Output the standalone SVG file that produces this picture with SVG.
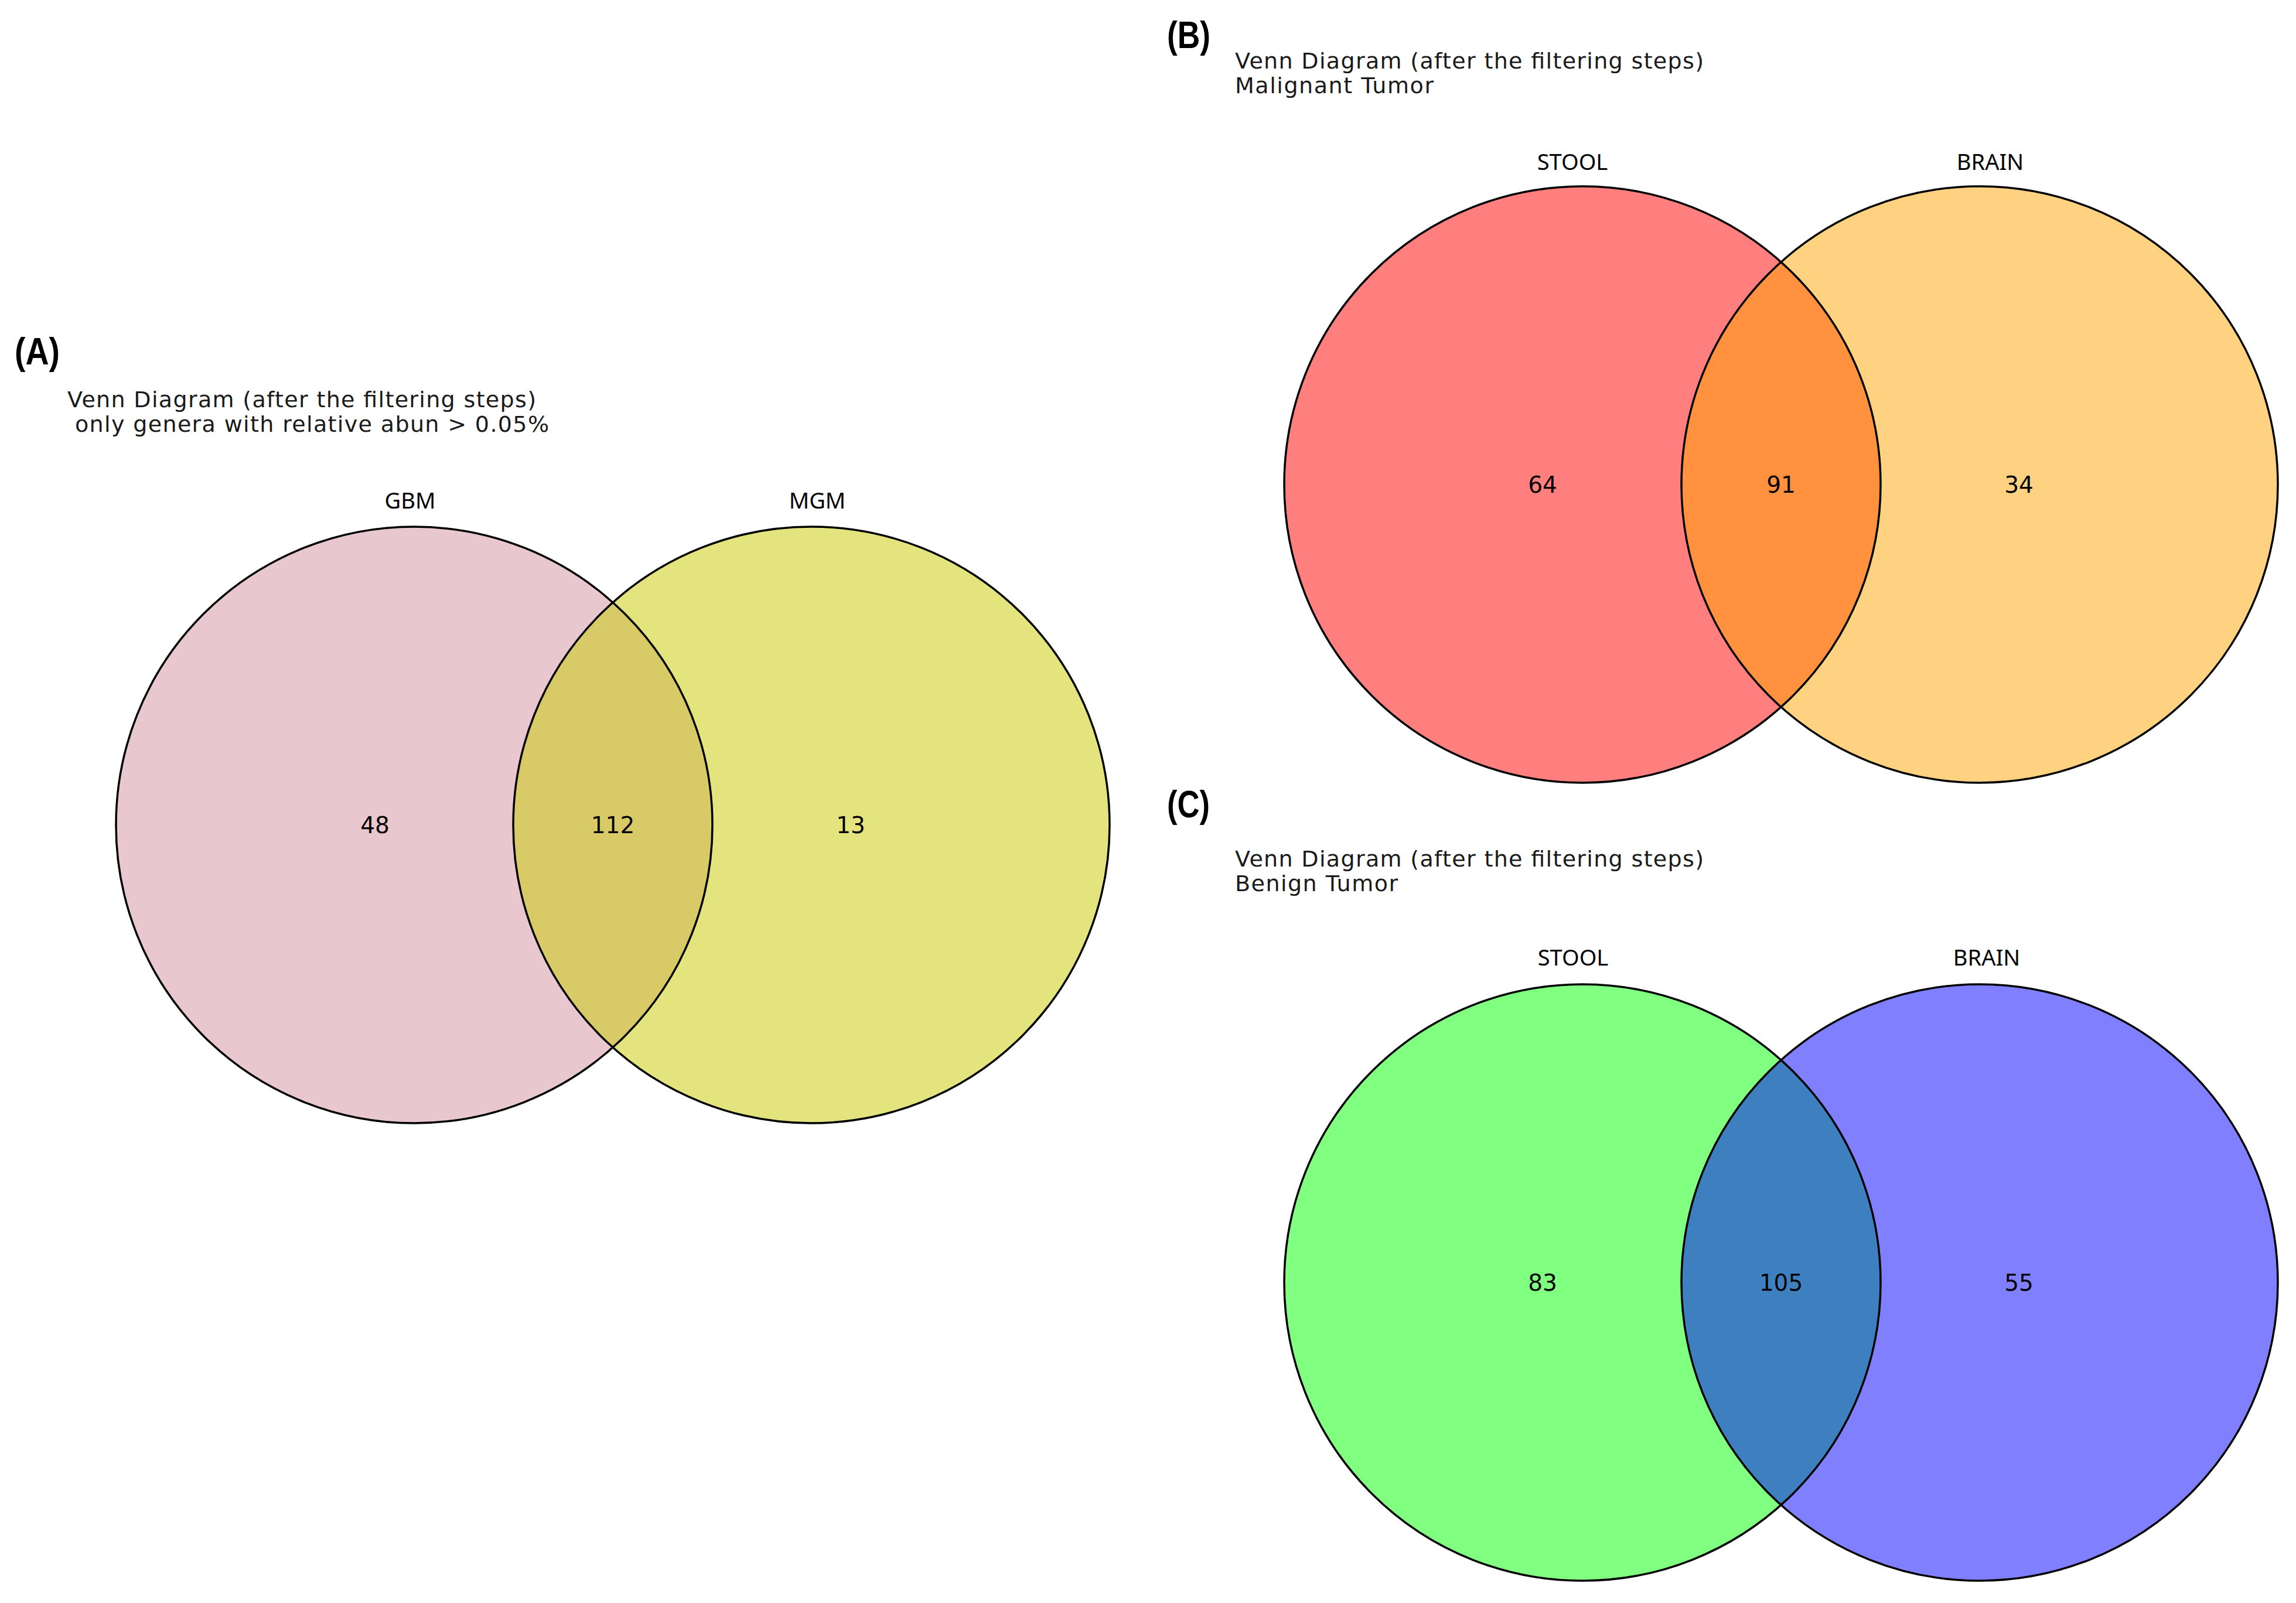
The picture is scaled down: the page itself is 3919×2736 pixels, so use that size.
<svg xmlns="http://www.w3.org/2000/svg" width="3919" height="2736" viewBox="0 0 3919 2736">
<style>
.bg{fill:#ffffff}
.ring{fill:none;stroke:#000000;stroke-width:3.5}
.panel{font-family:"Liberation Sans",Arial,sans-serif;font-weight:bold;font-size:64px;fill:#000}
.title{font-family:"DejaVu Sans",sans-serif;font-size:38px;fill:#1a1a1a}
.set{font-family:"Noto Sans","Open Sans",sans-serif;font-size:38px;fill:#000;text-anchor:middle}
.num{font-family:"DejaVu Sans",sans-serif;font-size:39px;fill:#000;text-anchor:middle}
</style>
<rect class="bg" x="0" y="0" width="3919" height="2736"/>

<g id="panelA">
  <text class="panel" x="25" y="622" textLength="77" lengthAdjust="spacingAndGlyphs">(A)</text>
  <text class="title" x="115" y="695" textLength="800">Venn Diagram (after the filtering steps)</text>
  <text class="title" x="128" y="737" textLength="809">only genera with relative abun &gt; 0.05%</text>
  <g id="A-GBM">
    <circle cx="707" cy="1408" r="509" fill="#e8c7cf"/>
  </g>
  <g id="A-MGM">
    <circle cx="1385" cy="1408" r="509" fill="#e4e47f"/>
  </g>
  <g id="A-overlap">
    <path d="M1046 1028.3 A509 509 0 0 1 1046 1787.7 A509 509 0 0 1 1046 1028.3 Z" fill="#d8ca66"/>
  </g>
  <circle class="ring" cx="707" cy="1408" r="509"/>
  <circle class="ring" cx="1385" cy="1408" r="509"/>
  <text class="set" x="700" y="868">GBM</text>
  <text class="set" x="1395" y="868">MGM</text>
  <text class="num" x="640" y="1422">48</text>
  <text class="num" x="1046" y="1422">112</text>
  <text class="num" x="1452" y="1422">13</text>
</g>

<g id="panelB">
  <text class="panel" x="1992" y="82" textLength="74" lengthAdjust="spacingAndGlyphs">(B)</text>
  <text class="title" x="2108" y="117" textLength="800">Venn Diagram (after the filtering steps)</text>
  <text class="title" x="2108" y="159" textLength="339">Malignant Tumor</text>
  <g id="B-STOOL">
    <circle cx="2701" cy="827" r="509" fill="#ff7f7f"/>
  </g>
  <g id="B-BRAIN">
    <circle cx="3379" cy="827" r="509" fill="#fed281"/>
  </g>
  <g id="B-overlap">
    <path d="M3040 447.3 A509 509 0 0 1 3040 1206.7 A509 509 0 0 1 3040 447.3 Z" fill="#ff913f"/>
  </g>
  <circle class="ring" cx="2701" cy="827" r="509"/>
  <circle class="ring" cx="3379" cy="827" r="509"/>
  <text class="set" x="2684" y="290">STOOL</text>
  <text class="set" x="3397" y="290">BRAIN</text>
  <text class="num" x="2633" y="841">64</text>
  <text class="num" x="3040" y="841">91</text>
  <text class="num" x="3446" y="841">34</text>
</g>

<g id="panelC">
  <text class="panel" x="1992" y="1395" textLength="73" lengthAdjust="spacingAndGlyphs">(C)</text>
  <text class="title" x="2108" y="1479" textLength="800">Venn Diagram (after the filtering steps)</text>
  <text class="title" x="2108" y="1521" textLength="278">Benign Tumor</text>
  <g id="C-STOOL">
    <circle cx="2701" cy="2189" r="509" fill="#80ff80"/>
  </g>
  <g id="C-BRAIN">
    <circle cx="3379" cy="2189" r="509" fill="#8080ff"/>
  </g>
  <g id="C-overlap">
    <path d="M3040 1809.3 A509 509 0 0 1 3040 2568.7 A509 509 0 0 1 3040 1809.3 Z" fill="#3e80bf"/>
  </g>
  <circle class="ring" cx="2701" cy="2189" r="509"/>
  <circle class="ring" cx="3379" cy="2189" r="509"/>
  <text class="set" x="2685" y="1648">STOOL</text>
  <text class="set" x="3391" y="1648">BRAIN</text>
  <text class="num" x="2633" y="2203">83</text>
  <text class="num" x="3040" y="2203">105</text>
  <text class="num" x="3446" y="2203">55</text>
</g>
</svg>
